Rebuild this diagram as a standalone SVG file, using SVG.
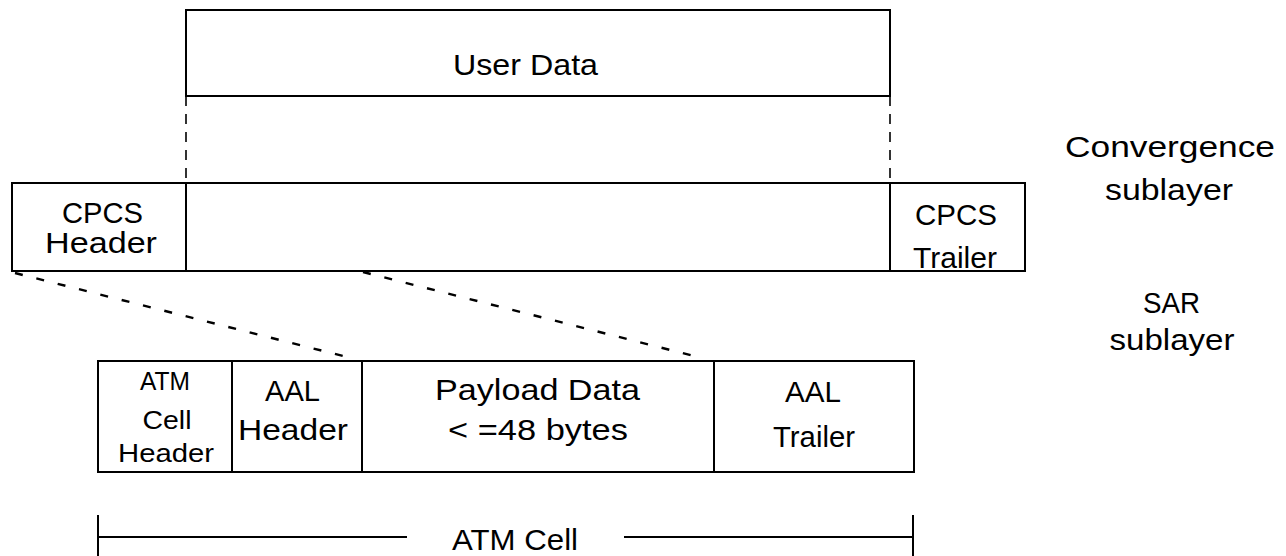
<svg xmlns="http://www.w3.org/2000/svg" width="1286" height="556" viewBox="0 0 1286 556">
<style>
.box{fill:#fff;stroke:#000;stroke-width:2}
.ln{stroke:#000;stroke-width:2;fill:none}
.vd{stroke:#000;stroke-width:1.6;stroke-dasharray:10 8;fill:none}
.dd{stroke:#000;stroke-width:2.4;stroke-dasharray:8 14;fill:none}
text{font-family:"Liberation Sans",Arial,sans-serif;font-size:29px;fill:#000;text-anchor:middle}
.sm{font-size:25px}
</style>
<rect width="1286" height="556" fill="#fff"/>
<g id="connectors">
<line class="vd" x1="186" y1="96" x2="186" y2="183"/>
<line class="vd" x1="890" y1="96" x2="890" y2="183"/>
<line class="dd" x1="15" y1="273" x2="347" y2="357"/>
<line class="dd" x1="363" y1="272" x2="698" y2="357"/>
</g>
<g id="user-data">
<rect class="box" x="186" y="10" width="704" height="86"/>
<text x="525.5" y="75" textLength="145" lengthAdjust="spacingAndGlyphs">User Data</text>
</g>
<g id="cpcs-pdu">
<rect class="box" x="12" y="183" width="1013" height="88"/>
<line class="ln" x1="186" y1="183" x2="186" y2="271"/>
<line class="ln" x1="890" y1="183" x2="890" y2="271"/>
</g>
<g id="cpcs-header">
<text x="102.5" y="223" textLength="81" lengthAdjust="spacingAndGlyphs">CPCS</text>
<text x="101" y="253" textLength="112" lengthAdjust="spacingAndGlyphs">Header</text>
</g>
<g id="cpcs-trailer">
<text x="956" y="225" textLength="82" lengthAdjust="spacingAndGlyphs">CPCS</text>
<text x="955" y="268" textLength="84" lengthAdjust="spacingAndGlyphs">Trailer</text>
</g>
<g id="convergence-label">
<text x="1170" y="157" textLength="210" lengthAdjust="spacingAndGlyphs">Convergence</text>
<text x="1169" y="200" textLength="128" lengthAdjust="spacingAndGlyphs">sublayer</text>
</g>
<g id="sar-label">
<text x="1171.5" y="313" textLength="57" lengthAdjust="spacingAndGlyphs">SAR</text>
<text x="1172" y="350" textLength="125" lengthAdjust="spacingAndGlyphs">sublayer</text>
</g>
<g id="atm-cell-row">
<rect class="box" x="98" y="361" width="816" height="111"/>
<line class="ln" x1="232" y1="361" x2="232" y2="472"/>
<line class="ln" x1="362" y1="361" x2="362" y2="472"/>
<line class="ln" x1="714" y1="361" x2="714" y2="472"/>
</g>
<g id="atm-cell-header">
<text class="sm" x="165" y="390" textLength="50" lengthAdjust="spacingAndGlyphs">ATM</text>
<text class="sm" x="167" y="429" textLength="49" lengthAdjust="spacingAndGlyphs">Cell</text>
<text class="sm" x="166" y="462" textLength="96" lengthAdjust="spacingAndGlyphs">Header</text>
</g>
<g id="aal-header">
<text x="292.5" y="401" textLength="55" lengthAdjust="spacingAndGlyphs">AAL</text>
<text x="293" y="440" textLength="110" lengthAdjust="spacingAndGlyphs">Header</text>
</g>
<g id="payload">
<text x="537.5" y="400" textLength="205" lengthAdjust="spacingAndGlyphs">Payload Data</text>
<text x="538" y="440" textLength="180" lengthAdjust="spacingAndGlyphs">&lt; =48 bytes</text>
</g>
<g id="aal-trailer">
<text x="813" y="402" textLength="56" lengthAdjust="spacingAndGlyphs">AAL</text>
<text x="814" y="447" textLength="82" lengthAdjust="spacingAndGlyphs">Trailer</text>
</g>
<g id="atm-cell-span">
<line class="ln" x1="98" y1="537" x2="407" y2="537"/>
<line class="ln" x1="624" y1="537" x2="913" y2="537"/>
<line class="ln" x1="98" y1="515" x2="98" y2="556"/>
<line class="ln" x1="913" y1="515" x2="913" y2="556"/>
<text x="515" y="550" textLength="126" lengthAdjust="spacingAndGlyphs">ATM Cell</text>
</g>
</svg>
